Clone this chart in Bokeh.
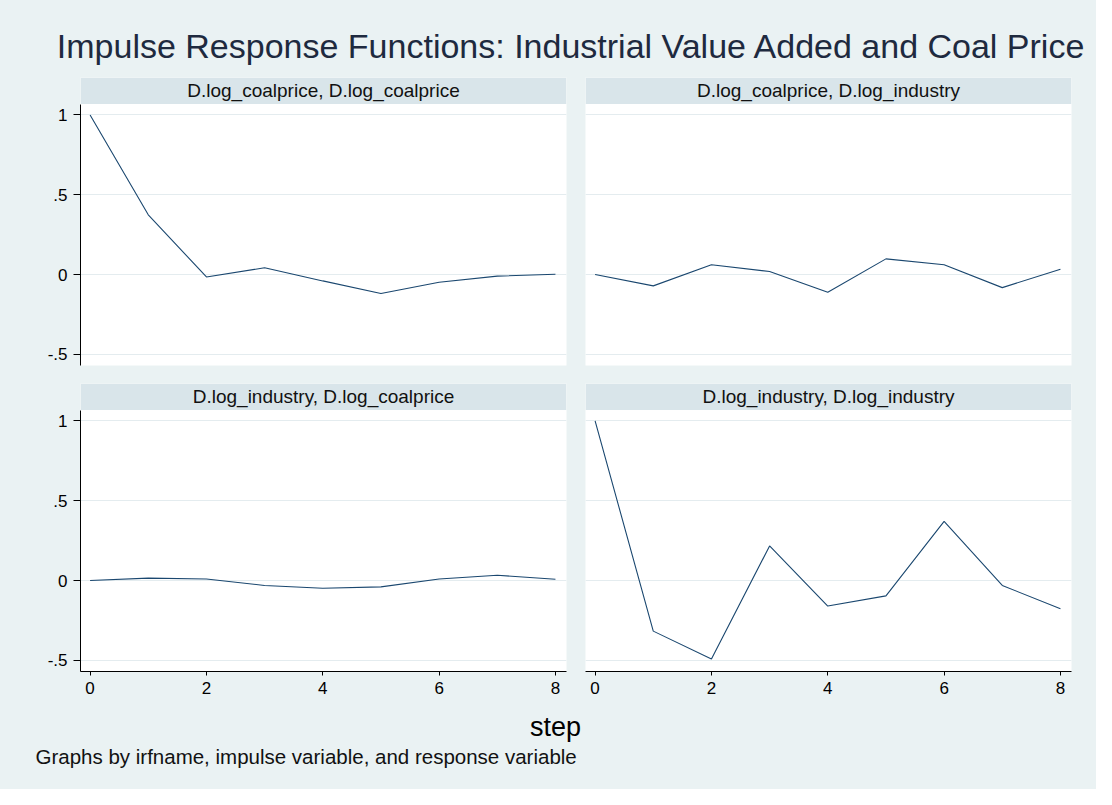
from bokeh.plotting import figure
from bokeh.layouts import column, row
from bokeh.models import Range1d, FixedTicker, BoxAnnotation, Label, Grid, CustomJSTickFormatter
from bokeh.embed import file_html
from bokeh.resources import INLINE

# ---------------- data ----------------
steps = [0, 1, 2, 3, 4, 5, 6, 7, 8]
coal_to_coal = [1.0, 0.374, -0.015, 0.042, -0.040, -0.119, -0.048, -0.010, 0.002]
coal_to_industry = [0.0, -0.071, 0.061, 0.019, -0.111, 0.098, 0.061, -0.082, 0.033]
industry_to_coal = [0.0, 0.015, 0.010, -0.031, -0.048, -0.040, 0.010, 0.033, 0.008]
industry_to_industry = [1.0, -0.317, -0.492, 0.217, -0.160, -0.096, 0.371, -0.031, -0.177]

panel_titles = [
    "D.log_coalprice, D.log_coalprice",
    "D.log_coalprice, D.log_industry",
    "D.log_industry, D.log_coalprice",
    "D.log_industry, D.log_industry",
]
y_ticks = [-0.5, 0, 0.5, 1]
x_ticks = [0, 2, 4, 6, 8]
main_title = "Impulse Response Functions: Industrial Value Added and Coal Price"
x_title = "step"
note = "Graphs by irfname, impulse variable, and response variable"

# ---------------- style ----------------
BG = "#eaf2f3"
STRIP = "#d9e5ea"
GRID = "#e4ecef"
LINE = "#1a476f"
FONT = "Liberation Sans"

TOTAL_W = 1096
FRAME_W = 486
FRAME_H = 288
PX_PER_UNIT = 159.6
STRIP_H = 26.5
XR = (-0.165, 8.19)
Y0 = -0.570
Y1 = Y0 + FRAME_H / PX_PER_UNIT
STRIP_B = Y1 - STRIP_H / PX_PER_UNIT

ytick_fmt = CustomJSTickFormatter(code="""
if (tick == 0) { return "0"; }
var s = tick.toString();
return s.replace(/^(-?)0\\./, "$1.");
""")


def panel(title, values, left, bottom):
    p = figure(
        frame_width=FRAME_W, frame_height=FRAME_H,
        x_range=Range1d(*XR), y_range=Range1d(Y0, Y1),
        x_axis_location="below" if bottom else None,
        y_axis_location="left" if left else None,
        toolbar_location=None, output_backend="svg", title=None,
        min_border_left=80 if left else 10,
        min_border_right=9 if left else 25,
        min_border_top=0,
        min_border_bottom=31 if bottom else 18,
        background_fill_color="white", border_fill_color=BG,
        outline_line_color=None,
    )
    p.xgrid.visible = False
    p.ygrid.visible = False
    g = Grid(dimension=1, ticker=FixedTicker(ticks=y_ticks),
             grid_line_color=GRID, grid_line_width=1)
    p.add_layout(g)
    if left:
        ax = p.yaxis[0]
        ax.ticker = FixedTicker(ticks=y_ticks)
        ax.formatter = ytick_fmt
        ax.bounds = (Y0, STRIP_B)
        ax.major_tick_out = 7
        ax.major_tick_in = 0
        ax.minor_tick_line_color = None
        ax.major_label_standoff = 6
        ax.axis_line_color = "black"
        ax.major_tick_line_color = "black"
        ax.major_label_text_font = FONT
        ax.major_label_text_font_size = "17px"
        ax.major_label_text_color = "#000000"
    if bottom:
        ax = p.xaxis[0]
        ax.ticker = FixedTicker(ticks=x_ticks)
        ax.major_tick_out = 4
        ax.major_tick_in = 0
        ax.minor_tick_line_color = None
        ax.major_label_standoff = 6
        ax.axis_line_color = "black"
        ax.major_tick_line_color = "black"
        ax.major_label_text_font = FONT
        ax.major_label_text_font_size = "17px"
        ax.major_label_text_color = "#000000"
    p.line(steps, values, line_color=LINE, line_width=1.1)
    p.add_layout(BoxAnnotation(bottom=STRIP_B, fill_color=STRIP, fill_alpha=1.0,
                               line_color=None))
    p.add_layout(Label(x=(XR[0] + XR[1]) / 2, y=(STRIP_B + Y1) / 2, text=title,
                       text_align="center", text_baseline="middle",
                       text_font=FONT, text_font_size="19px",
                       text_color="#111111"))
    return p


def blank(h):
    p = figure(width=TOTAL_W, height=h, x_range=Range1d(0, TOTAL_W),
               y_range=Range1d(0, h), min_border=0,
               x_axis_location=None, y_axis_location=None,
               toolbar_location=None, output_backend="svg", title=None,
               background_fill_color=BG, border_fill_color=BG,
               outline_line_color=None)
    p.xgrid.visible = False
    p.ygrid.visible = False
    return p


header = blank(77)
header.add_layout(Label(x=571, y=31.5, text=main_title, text_align="center",
                        text_baseline="alphabetic", text_font=FONT,
                        text_font_size="34px", text_color="#1e2a3f"))

p1 = panel(panel_titles[0], coal_to_coal, True, False)
p2 = panel(panel_titles[1], coal_to_industry, False, False)
p3 = panel(panel_titles[2], industry_to_coal, True, True)
p4 = panel(panel_titles[3], industry_to_industry, False, True)

footer = blank(87)
footer.add_layout(Label(x=555, y=62.5, text=x_title, text_align="center",
                        text_baseline="alphabetic", text_font=FONT,
                        text_font_size="27px", text_color="#000000"))
footer.add_layout(Label(x=35, y=33, text=note, text_align="left",
                        text_baseline="alphabetic", text_font=FONT,
                        text_font_size="20.5px", text_color="#111111"))

bgstyle = {"background-color": BG}
layout = column(
    header,
    row(p1, p2, spacing=0, styles=bgstyle),
    row(p3, p4, spacing=0, styles=bgstyle),
    footer,
    spacing=0, styles=bgstyle,
)

open("out.html", "w").write(file_html(layout, INLINE))
